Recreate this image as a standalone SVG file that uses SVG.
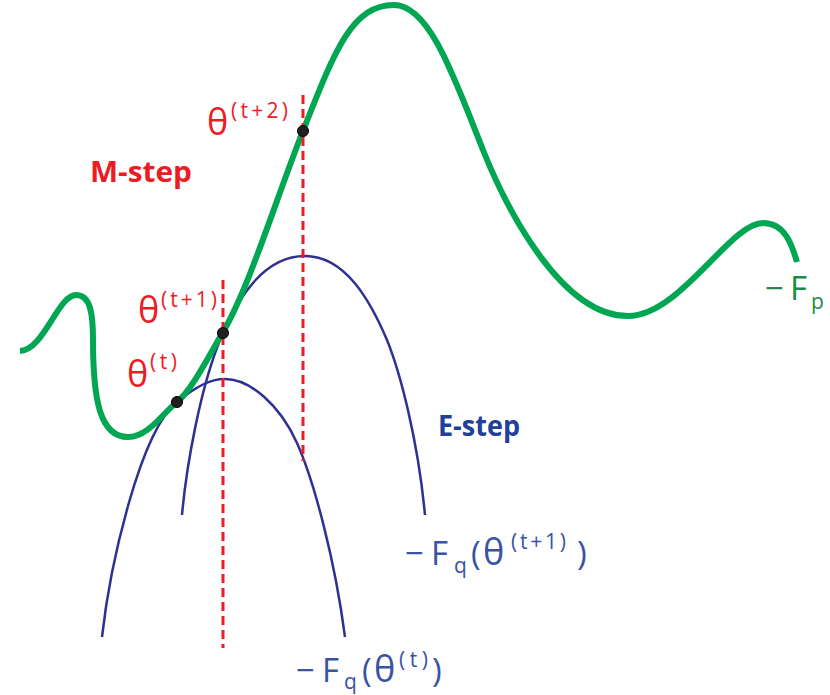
<svg xmlns="http://www.w3.org/2000/svg" width="830" height="695" viewBox="0 0 830 695">
<style>
.bg{fill:#ffffff}
.green{fill:none;stroke:#00a651;stroke-width:6;stroke-linecap:butt;stroke-linejoin:round}
.blue{fill:none;stroke:#2e3192;stroke-width:2.5}
.dash{fill:none;stroke:#ed1c24;stroke-width:3;stroke-dasharray:9 5}
.dot{fill:#231f20;stroke:#000;stroke-width:1}
text{font-family:"Open Sans","Noto Sans","DejaVu Sans",sans-serif}
.red{fill:#ed1c24}
.lbl{fill:#3953a4}
.gl{fill:#1a8c44}
.big{font-size:33px}
.th{font-size:36px}
.sup{font-size:21px}
.bold{font-weight:bold;font-size:29px}
</style>
<rect class="bg" x="0" y="0" width="830" height="695"/>
<g id="connectors">
<path id="bound-t" class="blue" d="M102,637 C110,565 140,432 177,402 C197,386 210,379 225,379 C250,379 280,405 297,443 C314,481 335,560 345,637"/>
<path id="bound-t1" class="blue" d="M182,515 C186,470 200,385 223,333 C240,295 265,256 305,256 C345,256 370,300 387,340 C400,372 418,440 425,515"/>
<path id="objective" class="green" d="M20,351 C44,350 58,295 76,295 C90,295 93,312 93,340 C93,400 100,437 128,437 C148,437 162,414 177,402 C192,390 211,352 223,332 C250,286 278,193 303,131 C335,50 352,5 394,5 C430,5 455,80 483,150 C505,205 560,316 628,316 C680,316 730,223 763,223 C785,223 792,245 797,262"/>
<line class="dash" x1="223" y1="280" x2="223" y2="648"/>
<line class="dash" x1="303" y1="95" x2="303" y2="461"/>
</g>
<g id="point-t"><circle class="dot" cx="177" cy="402" r="5.5"/>
<text class="red th" x="127" y="387">θ</text><text class="red sup" x="150" y="369" textLength="27" lengthAdjust="spacing">(t)</text></g>
<g id="point-t1"><circle class="dot" cx="223" cy="333" r="5.5"/>
<text class="red th" x="138" y="323">θ</text><text class="red sup" x="161" y="307" textLength="56" lengthAdjust="spacing">(t+1)</text></g>
<g id="point-t2"><circle class="dot" cx="303" cy="131" r="5.5"/>
<text class="red th" x="207" y="135">θ</text><text class="red sup" x="231" y="118" textLength="57" lengthAdjust="spacing">(t+2)</text></g>
<g id="m-step"><text class="red bold" x="90" y="182" textLength="102" lengthAdjust="spacingAndGlyphs">M-step</text></g>
<g id="e-step"><text class="bold" fill="#21409a" x="438" y="436" textLength="82" lengthAdjust="spacingAndGlyphs">E-step</text></g>
<g id="label-fp"><text class="gl big" x="765" y="300">−</text><text class="gl big" x="790" y="300">F</text><text class="gl sup" x="811" y="309">p</text></g>
<g id="label-fq-t1"><text class="lbl big" x="405" y="565">−</text><text class="lbl big" x="431" y="565">F</text><text class="lbl sup" x="454" y="573">q</text><text class="lbl big" x="471" y="565">(</text><text class="lbl th" x="483" y="565">θ</text><text class="lbl sup" x="511" y="549" textLength="55" lengthAdjust="spacing">(t+1)</text><text class="lbl big" x="577" y="565">)</text></g>
<g id="label-fq-t"><text class="lbl big" x="296" y="682">−</text><text class="lbl big" x="322" y="682">F</text><text class="lbl sup" x="344" y="689">q</text><text class="lbl big" x="362" y="682">(</text><text class="lbl th" x="374" y="682">θ</text><text class="lbl sup" x="399" y="667" textLength="29" lengthAdjust="spacing">(t)</text><text class="lbl big" x="432" y="682">)</text></g>
</svg>
